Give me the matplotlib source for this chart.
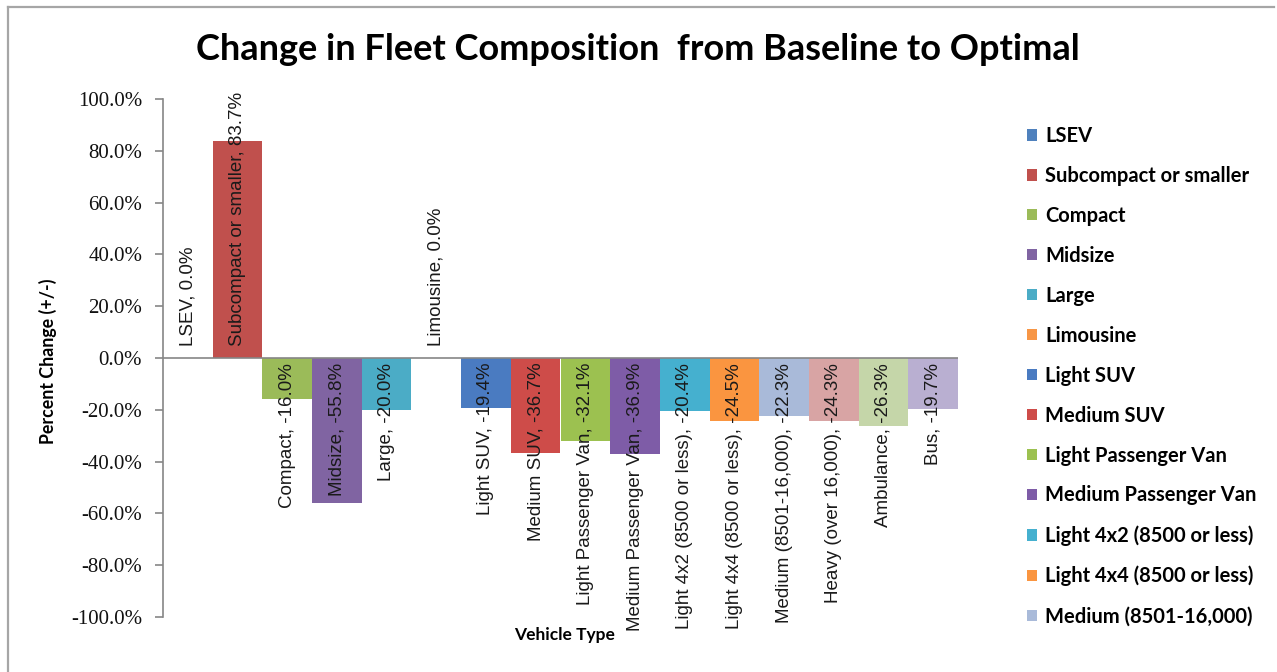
import matplotlib
matplotlib.use("Agg")
import matplotlib.pyplot as plt
from matplotlib.patches import Rectangle
from matplotlib.lines import Line2D

plt.rcParams["font.serif"] = ["Liberation Serif", "DejaVu Serif"]

# Vehicle categories and percent change from baseline to optimal fleet
categories = [
    "LSEV", "Subcompact or smaller", "Compact", "Midsize", "Large", "Limousine",
    "Light SUV", "Medium SUV", "Light Passenger Van", "Medium Passenger Van",
    "Light 4x2 (8500 or less)", "Light 4x4 (8500 or less)",
    "Medium (8501-16,000)", "Heavy (over 16,000)", "Ambulance", "Bus",
]
pct_change = [0.0, 83.7, -16.0, -55.8, -20.0, 0.0,
              -19.4, -36.7, -32.1, -36.9, -20.4, -24.5,
              -22.3, -24.3, -26.3, -19.7]
y_ticks = [100, 80, 60, 40, 20, 0, -20, -40, -60, -80, -100]

colors = ["#4F81BD", "#C0504D", "#9BBB59", "#8064A2", "#4BACC6", "#F79646",
          "#4A7BC1", "#CE4C49", "#9CC150", "#7E5CA7", "#45B0CF", "#FA9540",
          "#A9BAD9", "#D8A4A4", "#C5D6A9", "#B9AFD1"]

W, H = 1277, 672
fig = plt.figure(figsize=(W / 100, H / 100), dpi=100)

# chart frame lines
fig.add_artist(Line2D([7.5 / W, 7.5 / W], [0, 1 - 6.5 / H], color="#A6A6A6", lw=1.6,
                      transform=fig.transFigure))
fig.add_artist(Line2D([7.5 / W, 1 - 3 / W], [1 - 6.5 / H, 1 - 6.5 / H], color="#A6A6A6",
                      lw=1.6, transform=fig.transFigure))

ax_l, ax_r, ax_t, ax_b = 163, 958, 99, 617
ax = fig.add_axes([ax_l / W, 1 - ax_b / H, (ax_r - ax_l) / W, (ax_b - ax_t) / H])

x = list(range(len(categories)))
bars = ax.bar(x, pct_change, width=1.0, color=colors, linewidth=0)
ax.set_xlim(-0.5, len(categories) - 0.5)
ax.set_ylim(-100, 100)
ax.axhline(0, color="#868686", lw=1.2, zorder=3)

for spine in ("top", "right", "bottom"):
    ax.spines[spine].set_visible(False)
ax.spines["left"].set_color("#868686")
ax.spines["left"].set_linewidth(1.2)
ax.set_xticks([])
ax.set_yticks(y_ticks)
ax.set_yticklabels([f"{v:.1f}%" for v in y_ticks])
ax.tick_params(axis="y", direction="out", length=6, width=1.2, color="#868686",
               pad=9, labelsize=15, labelcolor="#111111", labelfontfamily="serif")

# data labels anchored at the zero line
for xi, name, v in zip(x, categories, pct_change):
    if v >= 0:
        off, va = 8.5, "bottom"
    else:
        off, va = -3.5, "top"
    ax.annotate(f"{name}, {v:.1f}%", xy=(xi, 0), xytext=(0, off),
                textcoords="offset points", rotation=90, ha="center", va=va,
                fontfamily="Liberation Sans", fontsize=13.5, color="#1a1a1a",
                zorder=4)

fig.text(638 / W, 1 - 50 / H, "Change in Fleet Composition  from Baseline to Optimal",
         ha="center", va="center", fontfamily="Lato", fontweight="bold", fontsize=26)
fig.text(48 / W, 1 - 361 / H, "Percent Change (+/-)", rotation=90, ha="center",
         va="center", fontfamily="Lato", fontweight="bold", fontsize=12.8)
fig.text(565 / W, 1 - 635 / H, "Vehicle Type", ha="center", va="center",
         fontfamily="Lato", fontweight="bold", fontsize=12.5)

# legend (only the first entries fit in the chart area)
n_leg = 13
handles = [Rectangle((0, 0), 1, 1, facecolor=c, edgecolor="none") for c in colors[:n_leg]]
leg = fig.legend(handles, categories[:n_leg], loc="upper left",
                 bbox_to_anchor=(1027 / W, 1 - 126 / H), frameon=False,
                 prop={"family": "Lato", "weight": "bold", "size": 14.5},
                 handlelength=0.5, handleheight=0.5, handletextpad=0.4,
                 labelspacing=0.99, borderaxespad=0, borderpad=0)

fig.savefig("out.png", dpi=100)
